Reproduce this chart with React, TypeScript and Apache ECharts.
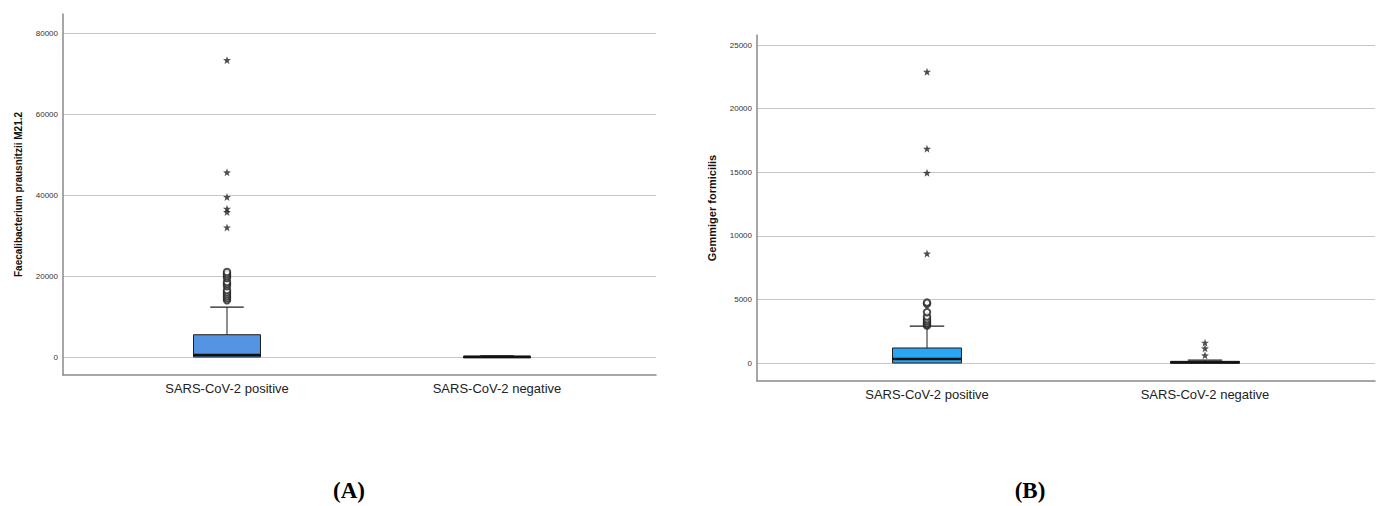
import React, { useEffect, useRef } from "react";
import * as echarts from "echarts";

const categories = ["SARS-CoV-2 positive", "SARS-CoV-2 negative"];

// [min, Q1, median, Q3, max]
const boxA = [
  [0, 0, 500, 5500, 12300],
  [0, 0, 50, 150, 300],
];
const circlesA = [14000, 14500, 15000, 15500, 16000, 16500, 17500, 18000, 18500, 19500, 20000, 20500, 21000];
const starsA = [32000, 35800, 36600, 39500, 45600, 73300];
const ticksA = [0, 20000, 40000, 60000, 80000];

const boxB = [
  [0, 0, 310, 1180, 2900],
  [0, 0, 40, 130, 220],
];
const circlesB = [2950, 3050, 3150, 3300, 3450, 3650, 4000, 4650, 4750];
const starsBPos = [8600, 14950, 16850, 22900];
const starsBNeg = [600, 1150, 1600];
const ticksB = [0, 5000, 10000, 15000, 20000, 25000];

const STAR =
  "path://M0,-10 L2.35,-3.24 L9.51,-3.09 L3.8,1.24 L5.88,8.09 L0,4 L-5.88,8.09 L-3.8,1.24 L-9.51,-3.09 L-2.35,-3.24 Z";
const FONT = "'Liberation Sans', Arial, sans-serif";

function boxRender(color: string) {
  return (params: any, api: any) => {
    const x = api.value(0);
    const lo = api.coord([x, api.value(1)]);
    const q1 = api.coord([x, api.value(2)]);
    const med = api.coord([x, api.value(3)]);
    const q3 = api.coord([x, api.value(4)]);
    const hi = api.coord([x, api.value(5)]);
    const band = api.size([1, 0])[0];
    const bw = band * 0.248;
    const cw = bw / 2;
    const cx = lo[0];
    const stroke = "#1e1e1e";
    return {
      type: "group",
      children: [
        { type: "line", shape: { x1: cx, y1: hi[1], x2: cx, y2: q3[1] }, style: { stroke, lineWidth: 1 } },
        { type: "line", shape: { x1: cx - cw / 2, y1: hi[1], x2: cx + cw / 2, y2: hi[1] }, style: { stroke, lineWidth: 1.2 } },
        { type: "line", shape: { x1: cx, y1: lo[1], x2: cx, y2: q1[1] }, style: { stroke, lineWidth: 1 } },
        {
          type: "rect",
          shape: { x: cx - bw / 2, y: q3[1], width: bw, height: Math.max(q1[1] - q3[1], 1.5) },
          style: { fill: color, stroke, lineWidth: 1 },
        },
        { type: "line", shape: { x1: cx - bw / 2, y1: med[1], x2: cx + bw / 2, y2: med[1] }, style: { stroke: "#111", lineWidth: 2.5 } },
      ],
    };
  };
}

function panel(idx: number, opts: any) {
  const base = idx * 3;
  const grids = [
    { left: opts.frameLeft, top: opts.frameTop, width: opts.frameWidth, height: opts.frameHeight },
    { left: opts.frameLeft, top: opts.lineTop, width: opts.frameWidth, height: opts.lineHeight },
    { left: opts.boxLeft, top: opts.lineTop, width: opts.boxWidth, height: opts.lineHeight },
  ];
  const xAxes = [
    {
      gridIndex: base, type: "value", min: 0, max: 1,
      axisLine: { show: true, lineStyle: { color: "#8a8a8a", width: 1.5 } },
      axisTick: { show: false }, axisLabel: { show: false }, splitLine: { show: false },
    },
    { gridIndex: base + 1, type: "value", min: 0, max: 1, show: false },
    {
      gridIndex: base + 2, type: "category", data: categories, boundaryGap: true,
      axisLine: { show: false }, axisTick: { show: false }, splitLine: { show: false },
      axisLabel: { margin: opts.catMargin, fontSize: 13, color: "#222", fontFamily: FONT },
    },
  ];
  const yAxes = [
    {
      gridIndex: base, type: "value", min: 0, max: 1,
      name: opts.name, nameLocation: "middle", nameGap: 40,
      nameTextStyle: { fontSize: opts.nameSize, fontWeight: "bold", color: "#111", fontFamily: FONT },
      axisLine: { show: true, lineStyle: { color: "#8a8a8a", width: 1.5 } },
      axisTick: { show: false }, axisLabel: { show: false }, splitLine: { show: false },
    },
    {
      gridIndex: base + 1, type: "value", min: opts.ticks[0], max: opts.ticks[opts.ticks.length - 1],
      interval: opts.ticks[1] - opts.ticks[0],
      axisLine: { show: false }, axisTick: { show: false },
      axisLabel: { fontSize: 8, color: "#333", margin: 5, fontFamily: FONT, formatter: (v: number) => String(v) },
      splitLine: { show: true, lineStyle: { color: "#c6c6c6", width: 1.2 } },
    },
    {
      gridIndex: base + 2, type: "value", min: opts.ticks[0], max: opts.ticks[opts.ticks.length - 1],
      show: false, splitLine: { show: false },
    },
  ];
  const series: any[] = [
    {
      type: "custom", xAxisIndex: base + 2, yAxisIndex: base + 2,
      renderItem: boxRender(opts.color),
      encode: { x: 0, y: [1, 2, 3, 4, 5] },
      data: opts.box.map((b: number[], i: number) => [i, ...b]),
      z: 3,
    },
    {
      type: "scatter", xAxisIndex: base + 2, yAxisIndex: base + 2,
      symbol: "emptyCircle", symbolSize: 6.5,
      itemStyle: { color: "#222", borderColor: "#222", borderWidth: 1 },
      data: opts.circles,
      z: 4,
    },
    {
      type: "scatter", xAxisIndex: base + 2, yAxisIndex: base + 2,
      symbol: STAR, symbolSize: 8,
      itemStyle: { color: "#222" },
      data: opts.stars,
      z: 4,
    },
  ];
  return { grids, xAxes, yAxes, series };
}

export default function App() {
  const ref = useRef<HTMLDivElement>(null);
  useEffect(() => {
    document.body.style.margin = "0";
    const chart = echarts.init(ref.current!, null, { renderer: "svg" });
    const a = panel(0, {
      frameLeft: 63, frameTop: 14, frameWidth: 593, frameHeight: 361,
      lineTop: 33, lineHeight: 324, boxLeft: 92, boxWidth: 540,
      ticks: ticksA, box: boxA, color: "#5494e3",
      circles: circlesA.map((v) => [0, v]),
      stars: starsA.map((v) => [0, v]),
      name: "Faecalibacterium prausnitzii M21.2", nameSize: 10, catMargin: 25,
    });
    const b = panel(1, {
      frameLeft: 757, frameTop: 35, frameWidth: 618, frameHeight: 346,
      lineTop: 45, lineHeight: 318, boxLeft: 788, boxWidth: 556,
      ticks: ticksB, box: boxB, color: "#2ba6f5",
      circles: circlesB.map((v) => [0, v]),
      stars: [...starsBPos.map((v) => [0, v]), ...starsBNeg.map((v) => [1, v])],
      name: "Gemmiger formicilis", nameSize: 11, catMargin: 25,
    });
    chart.setOption({
      animation: false,
      backgroundColor: "#fff",
      textStyle: { fontFamily: FONT },
      grid: [...a.grids, ...b.grids],
      xAxis: [...a.xAxes, ...b.xAxes],
      yAxis: [...a.yAxes, ...b.yAxes],
      series: [...a.series, ...b.series],
      graphic: [
        {
          type: "text", x: 349, y: 490,
          style: { text: "(A)", font: "bold 23px 'Liberation Serif', 'Times New Roman', serif", fill: "#000", textAlign: "center", textVerticalAlign: "middle" },
        },
        {
          type: "text", x: 1030, y: 490,
          style: { text: "(B)", font: "bold 23px 'Liberation Serif', 'Times New Roman', serif", fill: "#000", textAlign: "center", textVerticalAlign: "middle" },
        },
      ],
    });
    return () => chart.dispose();
  }, []);
  return <div ref={ref} style={{ width: 1378, height: 506 }} />;
}
